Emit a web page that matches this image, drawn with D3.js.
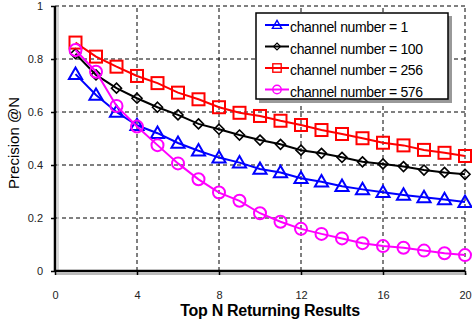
<!DOCTYPE html>
<html><head><meta charset="utf-8">
<script src="https://cdn.jsdelivr.net/npm/d3@7/dist/d3.min.js"></script>
<style>body{margin:0;background:#fff;} svg{display:block;font-family:"Liberation Sans",Arial,sans-serif;}</style>
</head><body>
<svg id="c" width="472" height="326"></svg>
<script>
const N = d3.range(1, 21);
const ch1   = [0.743,0.664,0.600,0.550,0.520,0.483,0.454,0.428,0.409,0.385,0.372,0.350,0.337,0.320,0.308,0.297,0.287,0.278,0.270,0.260];
const ch100 = [0.820,0.740,0.690,0.652,0.618,0.589,0.555,0.535,0.513,0.494,0.478,0.456,0.444,0.429,0.412,0.404,0.394,0.381,0.372,0.365];
const ch256 = [0.862,0.809,0.771,0.736,0.709,0.673,0.648,0.618,0.597,0.585,0.567,0.551,0.532,0.517,0.501,0.484,0.474,0.457,0.446,0.434];
const ch576 = [0.834,0.752,0.623,0.545,0.475,0.406,0.346,0.296,0.265,0.218,0.186,0.159,0.140,0.123,0.105,0.094,0.088,0.077,0.067,0.060];
const seriesNames = ["channel number = 1","channel number = 100","channel number = 256","channel number = 576"];
const xTicks = [0,4,8,12,16,20];
const yTicks = [0,0.2,0.4,0.6,0.8,1];

const series = [
  {name: seriesNames[0], values: ch1, color: "#0000ff", symbol: "tri"},
  {name: seriesNames[1], values: ch100, color: "#000000", symbol: "dia"},
  {name: seriesNames[2], values: ch256, color: "#ff0000", symbol: "sq"},
  {name: seriesNames[3], values: ch576, color: "#ff00ff", symbol: "circ"}
];

const svg = d3.select("#c");
const x = d3.scaleLinear().domain([0,20]).range([55,465]);
const y = d3.scaleLinear().domain([0,1]).range([271,6]);

// grid
const g = svg.append("g");
g.selectAll(".gx").data(xTicks.filter(d=>d>0)).join("line")
  .attr("x1", d=>x(d)).attr("x2", d=>x(d)).attr("y1", y(0)).attr("y2", y(1))
  .attr("stroke","#000").attr("stroke-width",1).attr("stroke-dasharray","4,3");
g.selectAll(".gy").data(yTicks.filter(d=>d>0)).join("line")
  .attr("x1", x(0)).attr("x2", x(20)).attr("y1", d=>y(d)).attr("y2", d=>y(d))
  .attr("stroke","#000").attr("stroke-width",1).attr("stroke-dasharray","4,3");

// axes shadow
svg.append("line").attr("x1",x(0)+1).attr("x2",x(20)+2).attr("y1",y(0)+3).attr("y2",y(0)+3).attr("stroke","#bbb").attr("stroke-width",2);
svg.append("line").attr("x1",x(0)+3).attr("x2",x(0)+3).attr("y1",y(1)+1).attr("y2",y(0)).attr("stroke","#ccc").attr("stroke-width",1.5);

const xAxis = d3.axisBottom(x).tickValues(xTicks).tickSize(4).tickPadding(16).tickFormat(d3.format("d"));
const yAxis = d3.axisLeft(y).tickValues(yTicks).tickSize(4).tickPadding(8).tickFormat(d=> d===0||d===1 ? d3.format("d")(d) : d3.format(".1f")(d));
const ax = svg.append("g").attr("transform",`translate(0,${y(0)})`).call(xAxis);
const ay = svg.append("g").attr("transform",`translate(${x(0)},0)`).call(yAxis);
[ax,ay].forEach(a=>{
  a.select(".domain").attr("stroke","#000").attr("stroke-width",2.5);
  a.selectAll(".tick line").attr("stroke","#000").attr("stroke-width",1.5);
  a.selectAll(".tick text").attr("fill","#222").style("font-size","11px").style("font-family","'Liberation Sans',Arial,sans-serif");
});
ax.select(".domain").attr("d", `M${x(0)},0H${x(20)}`);
ay.select(".domain").attr("d", `M0,${y(0)}V${y(1)}`);

// symbols
function drawSymbol(sel, type, color){
  if(type==="tri"){
    sel.append("path").attr("d", d3.symbol().type(d3.symbolTriangle).size(75)()).attr("transform","translate(0,1)");
  } else if(type==="dia"){
    sel.append("path").attr("d","M0,-5L5,0L0,5L-5,0Z");
  } else if(type==="sq"){
    sel.append("rect").attr("x",-6).attr("y",-6).attr("width",12).attr("height",12);
  } else {
    sel.append("circle").attr("r",6);
  }
  sel.selectAll("*").attr("fill","none").attr("stroke",color).attr("stroke-width",type==="dia"?1.6:2);
}

const line = d3.line().x((d,i)=>x(N[i])).y(d=>y(d));
series.forEach(s=>{
  const sg = svg.append("g");
  sg.append("path").datum(s.values).attr("d",line).attr("fill","none").attr("stroke",s.color).attr("stroke-width",2);
  sg.selectAll("g.m").data(s.values).join("g").attr("class","m")
    .attr("transform",(d,i)=>`translate(${x(N[i])},${y(d)})`)
    .each(function(){ drawSymbol(d3.select(this), s.symbol, s.color); });
});

// legend
const lg = svg.append("g").attr("transform","translate(256,13)");
lg.append("rect").attr("x",3).attr("y",3).attr("width",193).attr("height",87).attr("fill","#999");
lg.append("rect").attr("x",0).attr("y",0).attr("width",192).attr("height",86).attr("fill","#fff").attr("stroke","#000").attr("stroke-width",1.5);
series.forEach((s,i)=>{
  const ry = 12 + i*21.5;
  const row = lg.append("g").attr("transform",`translate(0,${ry})`);
  row.append("line").attr("x1",9).attr("x2",33).attr("y1",0).attr("y2",0).attr("stroke",s.color).attr("stroke-width",2);
  const m = row.append("g").attr("transform","translate(21,0) scale(0.7)");
  drawSymbol(m, s.symbol, s.color);
  row.append("text").attr("x",34).attr("y",7).text(s.name).style("font-size","14px").style("letter-spacing","-0.35px").attr("fill","#000");
});

// axis titles
svg.append("text").attr("x",270).attr("y",316).attr("text-anchor","middle").style("font-size","16px").style("font-weight","bold").style("letter-spacing","-0.3px").text("Top N Returning Results");
svg.append("text").attr("transform",`translate(19,143) rotate(-90)`).attr("text-anchor","middle").style("font-size","15px").text("Precision @N");
</script>
</body></html>
